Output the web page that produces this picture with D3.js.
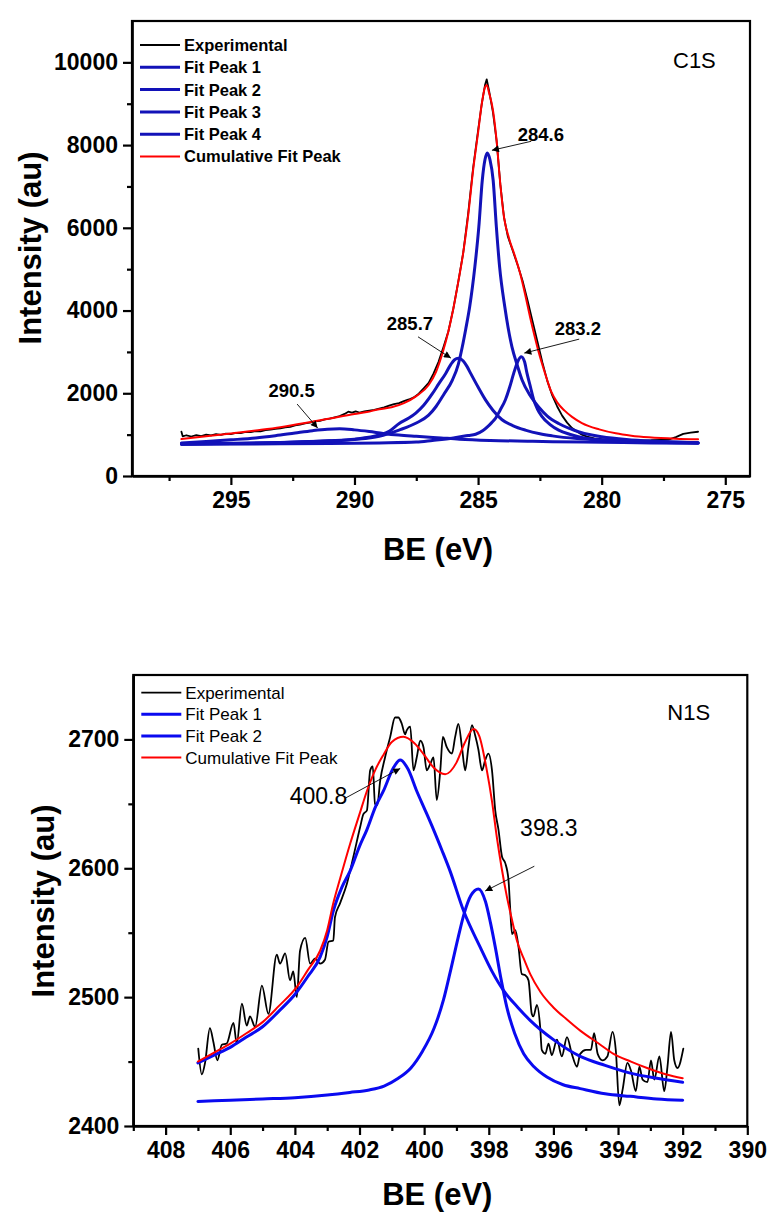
<!DOCTYPE html>
<html><head><meta charset="utf-8">
<script src="https://cdn.jsdelivr.net/npm/d3@7"></script>
<style>
body{margin:0;background:#fff}
svg{display:block}
text{font-family:"Liberation Sans",Arial,sans-serif}
</style>
</head><body>
<svg id="c" width="768" height="1214"></svg>
<script>
// ---------------- C1S data (BE eV, intensity) ----------------
const c1sExperimental = [[297.0,1070],[296.95,960],[296.8,985],[296.6,955],[296.4,990],[296.2,965],[296.0,1000],[295.8,980],[295.6,1010],[295.4,995],[295.2,1025],[295.0,1015],[294.8,1045],[294.6,1035],[294.4,1065],[294.2,1060],[294.0,1085],[293.8,1080],[293.6,1110],[293.4,1120],[293.2,1140],[293.0,1150],[292.8,1175],[292.6,1190],[292.4,1225],[292.2,1240],[292.0,1270],[291.8,1290],[291.6,1320],[291.4,1335],[291.2,1370],[291.0,1385],[290.8,1420],[290.6,1450],[290.4,1500],[290.25,1555],[290.1,1530],[289.95,1560],[289.8,1535],[289.6,1560],[289.4,1580],[289.2,1600],[289.0,1630],[288.8,1660],[288.6,1700],[288.4,1735],[288.2,1760],[288.0,1810],[287.8,1850],[287.6,1900],[287.4,1990],[287.2,2120],[287.0,2250],[286.8,2480],[286.6,2760],[286.4,3120],[286.2,3500],[286.0,4050],[285.8,4700],[285.6,5400],[285.4,6350],[285.2,7450],[285.0,8350],[284.85,9000],[284.72,9450],[284.65,9590],[284.55,9300],[284.4,8800],[284.25,8100],[284.1,7050],[283.95,6250],[283.8,5800],[283.6,5450],[283.4,5100],[283.2,4720],[283.0,4250],[282.8,3750],[282.6,3250],[282.4,2750],[282.2,2300],[282.0,1950],[281.8,1680],[281.6,1460],[281.4,1290],[281.2,1160],[281.0,1075],[280.8,1000],[280.6,950],[280.3,910],[280.0,890],[279.5,875],[279.0,865],[278.5,860],[278.0,865],[277.6,875],[277.3,880],[277.0,940],[276.7,1020],[276.4,1050],[276.1,1070]];
const c1sPeak1 = [[297.0,775],[295,790],[293,810],[291,850],[290,885],[289,960],[288.2,1110],[287.5,1280],[287.0,1470],[286.7,1680],[286.4,1960],[286.04,2320],[285.8,2700],[285.64,3120],[285.5,3550],[285.34,4090],[285.13,5060],[284.97,6020],[284.83,7150],[284.72,7650],[284.63,7810],[284.52,7650],[284.39,7150],[284.26,6020],[284.13,5060],[283.92,4090],[283.63,3120],[283.4,2650],[283.22,2320],[282.9,1950],[282.55,1670],[282.2,1450],[281.74,1270],[281.3,1150],[280.94,1070],[280.4,990],[280,950],[279,885],[278,845],[277,820],[276.1,805]];
const c1sPeak2 = [[297.0,770],[295,785],[293,810],[291,850],[290,890],[289,990],[288.6,1080],[288.19,1270],[287.8,1400],[287.52,1520],[287.2,1710],[286.85,1990],[286.6,2220],[286.31,2480],[286.1,2700],[285.95,2810],[285.8,2845],[285.6,2780],[285.45,2650],[285.3,2480],[285.0,2150],[284.7,1840],[284.4,1590],[284.03,1360],[283.6,1220],[283.09,1110],[282.5,1020],[282,970],[281,905],[280,870],[279,845],[278,830],[277,815],[276.1,805]];
const c1sPeak3 = [[297.0,765],[294,775],[291,785],[289,800],[287.5,820],[286.85,860],[286,920],[285.4,980],[285.1,1010],[284.8,1100],[284.6,1200],[284.45,1290],[284.29,1400],[284.1,1600],[283.89,1850],[283.72,2150],[283.56,2480],[283.4,2760],[283.25,2880],[283.12,2760],[283.02,2480],[282.88,2150],[282.75,1840],[282.6,1620],[282.42,1440],[282.1,1250],[281.74,1110],[281.3,1010],[280.94,950],[280.4,895],[280,870],[279,835],[278,815],[277,805],[276.1,795]];
const c1sPeak4 = [[297.0,800],[296,835],[295,875],[294,920],[293.2,975],[292.4,1040],[291.7,1095],[291.1,1130],[290.6,1140],[290.0,1115],[289.4,1075],[288.84,1030],[288.2,990],[287.5,960],[286.5,920],[285.75,890],[284.5,860],[283,840],[282,828],[280,815],[278,800],[276.1,790]];
const c1sCumulative = [[297.0,894],[296.0,960],[295.0,1025],[294.0,1100],[293.0,1180],[292.0,1280],[291.0,1390],[290.0,1500],[289.5,1545],[289.0,1615],[288.5,1660],[288.0,1760],[287.5,1930],[287.0,2200],[286.7,2520],[286.4,3050],[286.2,3500],[286.0,4050],[285.8,4700],[285.6,5400],[285.4,6300],[285.2,7400],[285.0,8300],[284.85,9000],[284.72,9400],[284.65,9450],[284.55,9250],[284.4,8850],[284.25,8100],[284.1,7050],[283.95,6250],[283.75,5750],[283.5,5300],[283.3,4900],[283.1,4400],[282.9,3850],[282.7,3350],[282.55,3000],[282.3,2500],[282.05,2050],[281.8,1780],[281.5,1580],[281.2,1430],[280.8,1280],[280.1,1127],[279.43,1031],[278.8,975],[278.09,935],[277.0,900],[276.1,886]];

const c1sXTicks = [295, 290, 285, 280, 275];
const c1sXMinor = [297.5, 292.5, 287.5, 282.5, 277.5];
const c1sYTicks = [0, 2000, 4000, 6000, 8000, 10000];
const c1sYMinor = [1000, 3000, 5000, 7000, 9000];
const c1sLegend = ["Experimental", "Fit Peak 1", "Fit Peak 2", "Fit Peak 3", "Fit Peak 4", "Cumulative Fit Peak"];
const c1sLabels = ["284.6", "285.7", "283.2", "290.5"];
// label anchor [BE, I], arrow start [BE, I], arrow end [BE, I]
const c1sLabelAt = [[283.40, 8099], [286.82, 3527], [281.90, 3406], [293.48, 1908]];
const c1sArrowFrom = [[282.85, 8092], [287.43, 3365], [280.91, 3309], [292.32, 1739]];
const c1sArrowTo = [[284.44, 7874], [286.10, 2850], [283.13, 2971], [291.49, 1159]];

// ---------------- N1S data ----------------
const n1sExperimental = [[406.99,2460],[406.88,2440],[406.78,2449],[406.63,2476],[406.52,2465],[406.40,2451],[406.26,2463],[406.11,2464],[405.90,2480],[405.80,2464],[405.64,2495],[405.49,2478],[405.39,2485],[405.23,2477],[405.02,2509],[404.82,2487],[404.56,2533],[404.46,2526],[404.30,2534],[404.15,2513],[404.05,2520],[403.94,2500],[403.84,2536],[403.68,2546],[403.53,2526],[403.37,2530],[403.22,2526],[403.07,2529],[402.96,2543],[402.81,2544],[402.76,2562],[402.60,2573],[402.39,2588],[402.19,2609],[401.98,2632],[401.88,2642],[401.77,2645],[401.67,2676],[401.59,2679],[401.52,2650],[401.45,2649],[401.36,2668],[401.21,2686],[401.05,2702],[400.90,2717],[400.80,2717],[400.69,2712],[400.59,2704],[400.54,2707],[400.43,2710],[400.33,2676],[400.23,2686],[400.12,2699],[400.02,2694],[399.92,2676],[399.81,2681],[399.71,2686],[399.61,2653],[399.50,2676],[399.42,2702],[399.30,2694],[399.14,2689],[399.04,2702],[398.94,2712],[398.83,2694],[398.73,2676],[398.63,2694],[398.52,2711],[398.42,2703],[398.32,2692],[398.21,2676],[398.11,2684],[398.01,2689],[397.90,2676],[397.80,2645],[397.70,2630],[397.59,2609],[397.49,2604],[397.39,2591],[397.34,2570],[397.28,2549],[397.18,2552],[397.08,2539],[396.98,2518],[396.87,2517],[396.77,2513],[396.67,2487],[396.62,2485],[396.51,2494],[396.41,2477],[396.36,2459],[396.25,2456],[396.15,2464],[396.05,2455],[395.89,2467],[395.74,2454],[395.58,2469],[395.43,2456],[395.27,2446],[395.17,2456],[394.99,2459],[394.84,2459],[394.74,2472],[394.63,2456],[394.48,2451],[394.33,2454],[394.17,2473],[394.07,2459],[393.96,2416],[393.86,2428],[393.71,2449],[393.60,2443],[393.45,2427],[393.34,2446],[393.24,2436],[393.09,2434],[392.98,2451],[392.88,2436],[392.72,2454],[392.57,2427],[392.47,2446],[392.36,2473],[392.26,2451],[392.16,2445],[391.98,2460]];
const n1sPeak1 = [[407.0,2449],[406.5,2455],[406.0,2461],[405.5,2469],[405.0,2477],[404.5,2489],[404.0,2502],[403.6,2516],[403.22,2531],[403.0,2547],[402.81,2567],[402.55,2585],[402.29,2598],[402.0,2617],[401.77,2630],[401.5,2648],[401.26,2660],[400.95,2678],[400.74,2684],[400.5,2677],[400.23,2660],[399.95,2644],[399.71,2630],[399.45,2614],[399.2,2598],[398.78,2567],[398.27,2539],[397.9,2520],[397.54,2505],[397.1,2492],[396.72,2482],[396.0,2467],[395.17,2454],[394.4,2447],[393.62,2441],[392.8,2437],[392.0,2434]];
const n1sPeak2 = [[407.0,2419],[406.0,2420],[405.0,2421],[404.0,2422],[403.0,2424],[402.3,2426],[401.7,2428],[401.24,2431],[400.8,2437],[400.41,2445],[400.05,2458],[399.69,2476],[399.4,2498],[399.17,2522],[398.95,2546],[398.76,2565],[398.55,2579],[398.32,2584],[398.1,2574],[397.95,2558],[397.8,2539],[397.62,2514],[397.44,2492],[397.2,2472],[396.92,2456],[396.6,2446],[396.2,2438],[395.7,2432],[395.17,2429],[394.4,2425],[393.62,2423],[392.8,2421],[392.0,2420]];
const n1sCumulative = [[407.0,2450],[406.5,2457],[406.0,2464],[405.5,2472],[404.98,2481],[404.5,2493],[403.94,2508],[403.6,2521],[403.22,2536],[403.0,2552],[402.81,2573],[402.6,2592],[402.29,2619],[402.0,2642],[401.77,2660],[401.5,2677],[401.26,2688],[401.0,2698],[400.64,2702],[400.3,2697],[400.0,2688],[399.7,2678],[399.35,2673],[399.0,2682],[398.75,2697],[398.47,2708],[398.3,2703],[398.06,2676],[397.9,2652],[397.75,2624],[397.6,2600],[397.44,2578],[397.3,2562],[397.13,2544],[396.92,2530],[396.72,2518],[396.4,2504],[396.0,2492],[395.6,2483],[395.17,2474],[394.6,2464],[394.14,2456],[393.6,2450],[393.1,2445],[392.5,2440],[392.0,2437]];

const n1sXTicks = [408, 406, 404, 402, 400, 398, 396, 394, 392, 390];
const n1sXMinor = [409, 407, 405, 403, 401, 399, 397, 395, 393, 391];
const n1sYTicks = [2400, 2500, 2600, 2700];
const n1sYMinor = [2450, 2550, 2650];
const n1sLegend = ["Experimental", "Fit Peak 1", "Fit Peak 2", "Cumulative Fit Peak"];
const n1sLabels = ["400.8", "398.3"];
const n1sLabelAt = [[402.38, 2649.6], [397.03, 2624.8]];
const n1sArrowFrom = [[402.45, 2654.3], [396.59, 2601.6]];
const n1sArrowTo = [[400.74, 2677.5], [398.11, 2582.4]];

// ---------------- drawing ----------------
const svg = d3.select("#c");
svg.append("rect").attr("width", 768).attr("height", 1214).attr("fill", "#fff");
const defs = svg.append("defs");
defs.append("marker").attr("id", "ah").attr("viewBox", "0 0 10 10")
  .attr("refX", 10).attr("refY", 5).attr("markerWidth", 9).attr("markerHeight", 7)
  .attr("markerUnits", "userSpaceOnUse").attr("orient", "auto")
  .append("path").attr("d", "M0,0 L10,5 L0,10 Z").attr("fill", "#000");

function panel(cfg) {
  const g = svg.append("g");
  const x = d3.scaleLinear().domain(cfg.xDomain).range([cfg.left, cfg.right]);
  const y = d3.scaleLinear().domain(cfg.yDomain).range([cfg.bottom, cfg.top]);

  // frame
  g.append("rect").attr("x", cfg.left).attr("y", cfg.top)
    .attr("width", cfg.right - cfg.left).attr("height", cfg.bottom - cfg.top)
    .attr("fill", "none").attr("stroke", "#000").attr("stroke-width", 2.2);

  const fmt = d3.format("d");
  const xa = g.append("g").attr("transform", `translate(0,${cfg.bottom})`)
    .call(d3.axisBottom(x).tickValues(cfg.xTicks).tickSize(9).tickSizeOuter(0).tickPadding(7).tickFormat(fmt));
  const xm = g.append("g").attr("transform", `translate(0,${cfg.bottom})`)
    .call(d3.axisBottom(x).tickValues(cfg.xMinor).tickSize(5).tickSizeOuter(0).tickFormat(""));
  const ya = g.append("g").attr("transform", `translate(${cfg.left},0)`)
    .call(d3.axisLeft(y).tickValues(cfg.yTicks).tickSize(9).tickSizeOuter(0).tickPadding(5).tickFormat(fmt));
  const ym = g.append("g").attr("transform", `translate(${cfg.left},0)`)
    .call(d3.axisLeft(y).tickValues(cfg.yMinor).tickSize(5).tickSizeOuter(0).tickFormat(""));
  [xa, xm, ya, ym].forEach(a => {
    a.select(".domain").attr("stroke", "#000").attr("stroke-width", 2.2);
    a.selectAll(".tick line").attr("stroke", "#000").attr("stroke-width", 2.2);
    a.selectAll("text").attr("fill", "#000").attr("font-size", 23).attr("font-weight", "bold")
      .attr("font-family", '"Liberation Sans",Arial,sans-serif');
  });

  // axis titles
  g.append("text").attr("x", (cfg.left + cfg.right) / 2 + cfg.xTitleDx).attr("y", cfg.xTitleY)
    .attr("text-anchor", "middle").attr("font-size", 31).attr("font-weight", "bold").text("BE (eV)");
  g.append("text").attr("transform", `translate(${cfg.yTitleX},${cfg.yTitleCY}) rotate(-90)`)
    .attr("text-anchor", "middle").attr("font-size", 31).attr("font-weight", "bold").text("Intensity (au)");

  // series
  const line = d3.line().x(d => x(d[0])).y(d => y(d[1]));
  cfg.series.forEach(s => {
    g.append("path").datum(s.data)
      .attr("d", line.curve(s.smooth ? d3.curveMonotoneX : d3.curveLinear))
      .attr("fill", "none").attr("stroke", s.color).attr("stroke-width", s.width)
      .attr("stroke-linejoin", "round").attr("stroke-linecap", "round");
  });

  // legend
  const lg = g.append("g");
  cfg.legend.forEach((name, i) => {
    const s = cfg.legendStyle[i];
    const yy = cfg.legendY + i * cfg.legendStep;
    lg.append("line").attr("x1", cfg.left + 8).attr("x2", cfg.left + 48)
      .attr("y1", yy).attr("y2", yy).attr("stroke", s.color).attr("stroke-width", s.width);
    lg.append("text").attr("x", cfg.left + 52).attr("y", yy).attr("dy", "0.36em")
      .attr("font-size", cfg.legendSize).attr("font-weight", cfg.legendWeight).text(name);
  });

  // panel label
  g.append("text").attr("x", cfg.right - cfg.tagDx).attr("y", cfg.top + cfg.tagDy)
    .attr("font-size", 22).text(cfg.tag);

  // annotations
  cfg.labels.forEach((t, i) => {
    g.append("line")
      .attr("x1", x(cfg.arrowFrom[i][0])).attr("y1", y(cfg.arrowFrom[i][1]))
      .attr("x2", x(cfg.arrowTo[i][0])).attr("y2", y(cfg.arrowTo[i][1]))
      .attr("stroke", "#000").attr("stroke-width", 0.9).attr("marker-end", "url(#ah)");
    g.append("text").attr("x", x(cfg.labelAt[i][0])).attr("y", y(cfg.labelAt[i][1]))
      .attr("text-anchor", cfg.labelAnchor[i])
      .attr("font-size", cfg.annSize).attr("font-weight", cfg.annWeight).text(t);
  });
}

const blueTop = "#1212b8";
panel({
  left: 132, right: 750, top: 21, bottom: 476,
  xDomain: [299, 274], yDomain: [0, 11000],
  xTicks: c1sXTicks, xMinor: c1sXMinor, yTicks: c1sYTicks, yMinor: c1sYMinor,
  xTitleY: 560, xTitleDx: -3, yTitleX: 41, yTitleCY: 248,
  series: [
    {data: c1sExperimental, color: "#000", width: 1.8, smooth: false},
    {data: c1sPeak4, color: blueTop, width: 3, smooth: true},
    {data: c1sPeak3, color: blueTop, width: 3, smooth: true},
    {data: c1sPeak2, color: blueTop, width: 3, smooth: true},
    {data: c1sPeak1, color: blueTop, width: 3, smooth: true},
    {data: c1sCumulative, color: "#ff0000", width: 2, smooth: true}
  ],
  legend: c1sLegend,
  legendStyle: [{color: "#000", width: 1.8}, {color: blueTop, width: 3}, {color: blueTop, width: 3},
                {color: blueTop, width: 3}, {color: blueTop, width: 3}, {color: "#ff0000", width: 1.8}],
  legendY: 45, legendStep: 22.3, legendSize: 16.5, legendWeight: "bold",
  tag: "C1S", tagDx: 77, tagDy: 47,
  labels: c1sLabels, labelAt: c1sLabelAt, arrowFrom: c1sArrowFrom, arrowTo: c1sArrowTo,
  labelAnchor: ["start", "end", "start", "start"], annSize: 18.5, annWeight: "bold"
});

const blueBot = "#0a0af0";
panel({
  left: 133.3, right: 747.3, top: 675, bottom: 1126,
  xDomain: [409, 390], yDomain: [2400, 2750],
  xTicks: n1sXTicks, xMinor: n1sXMinor, yTicks: n1sYTicks, yMinor: n1sYMinor,
  xTitleY: 1205, xTitleDx: -3, yTitleX: 54, yTitleCY: 901,
  series: [
    {data: n1sExperimental, color: "#000", width: 1.8, smooth: true},
    {data: n1sPeak1, color: blueBot, width: 3, smooth: true},
    {data: n1sPeak2, color: blueBot, width: 3, smooth: true},
    {data: n1sCumulative, color: "#ff0000", width: 2, smooth: true}
  ],
  legend: n1sLegend,
  legendStyle: [{color: "#000", width: 1.8}, {color: blueBot, width: 3}, {color: blueBot, width: 3}, {color: "#ff0000", width: 1.8}],
  legendY: 692.7, legendStep: 21.6, legendSize: 17, legendWeight: "normal",
  tag: "N1S", tagDx: 80, tagDy: 45,
  labels: n1sLabels, labelAt: n1sLabelAt, arrowFrom: n1sArrowFrom, arrowTo: n1sArrowTo,
  labelAnchor: ["end", "start"], annSize: 23, annWeight: "normal"
});
</script>
</body></html>
